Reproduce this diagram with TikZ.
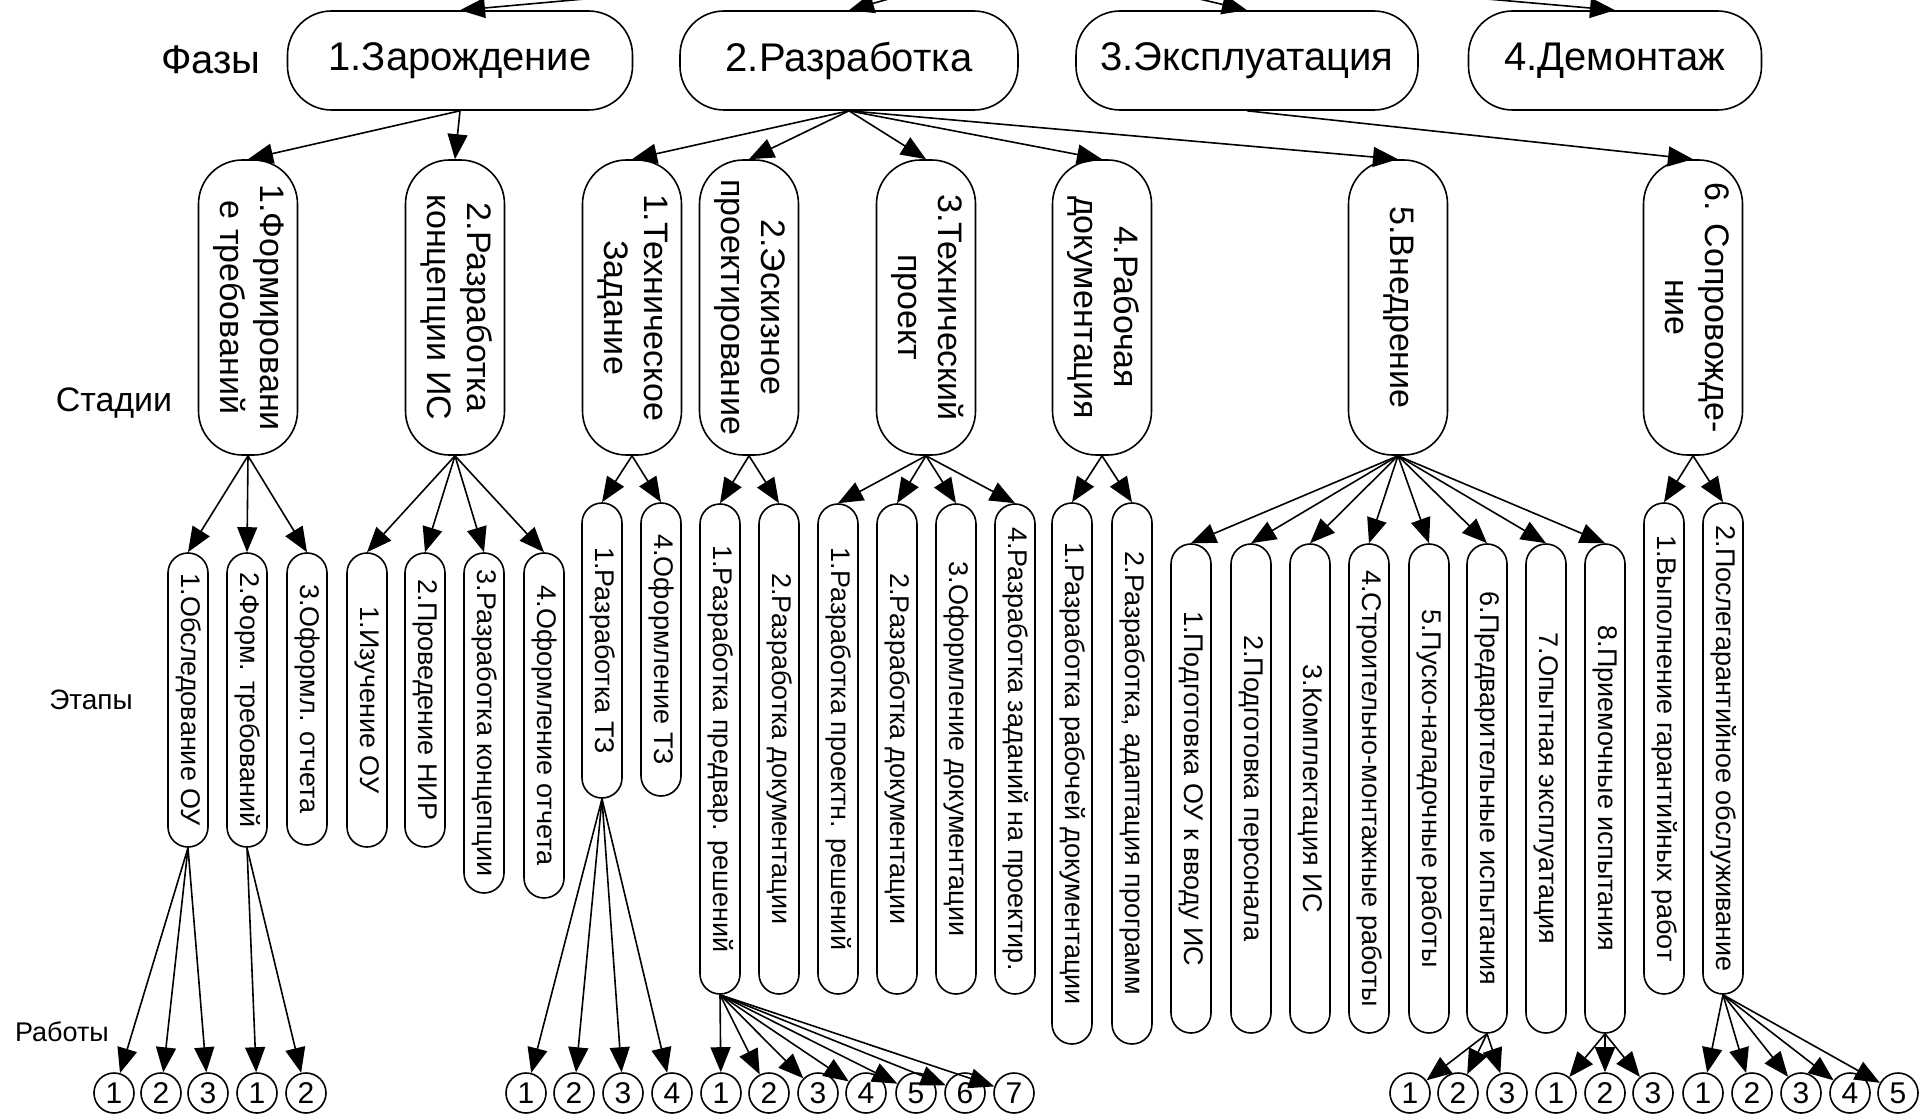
\documentclass[tikz,border=0pt]{standalone}
\usepackage{fontspec}
\setmainfont{Liberation Sans}
\usetikzlibrary{arrows.meta}

\newcommand{\rottext}[1]{\rotatebox{-90}{\begin{tabular}{@{}c@{}}#1\end{tabular}}}

\begin{document}
\begin{tikzpicture}[x=0.5pt,y=0.5pt,yscale=-1,xscale=1,line width=0.8pt,
  phase/.style={draw, rounded corners=22pt, minimum height=49.5pt, inner sep=0pt, font=\fontsize{20}{24}\selectfont},
  stage/.style={draw, rounded corners=22pt, minimum width=49.5pt, minimum height=147.5pt, inner sep=0pt, font=\fontsize{17}{20}\selectfont},
  etap/.style={draw, rounded corners=10pt, minimum width=20pt, inner sep=0pt, font=\fontsize{13.5}{16}\selectfont},
  work/.style={draw, circle, minimum size=20pt, inner sep=0pt, font=\fontsize{15}{17}\selectfont},
  lbl/.style={inner sep=0pt},
  arr/.style={-{Triangle[length=12.5pt,width=10pt]}}]

\useasboundingbox (0,0) rectangle (1921,1117);
\clip (0,0) rectangle (1921,1117);


\coordinate (root) at (1030,-41);

\node[lbl, font=\fontsize{20}{24}\selectfont] (fazy) at (211,60) {Фазы};
\node[lbl, font=\fontsize{17}{20}\selectfont] (stadii) at (114,403) {Стадии};
\node[lbl, font=\fontsize{14}{16}\selectfont] (etapy) at (91,700) {Этапы};
\node[lbl, font=\fontsize{13.5}{16}\selectfont] (raboty) at (62,1032) {Работы};


\node[phase, minimum width=172.5pt] (ph1) at (460,60.5) {1.Зарождение};
\node[phase, minimum width=169pt] (ph2) at (849,60.5) {2.Разработка};
\node[phase, minimum width=171pt] (ph3) at (1247,60.5) {3.Эксплуатация};
\node[phase, minimum width=146.5pt] (ph4) at (1615,60.5) {4.Демонтаж};


\node[stage] (s11) at (248,307.5) {\rottext{1.Формировани\\е требований}};
\node[stage] (s12) at (455,307.5) {\rottext{2.Разработка\\концепции ИС}};
\node[stage] (s21) at (632,307.5) {\rottext{1.Техническое\\Задание}};
\node[stage] (s22) at (749,307.5) {\rottext{2.Эскизное\\проектирование}};
\node[stage] (s23) at (926,307.5) {\rottext{3.Технический\\проект}};
\node[stage] (s24) at (1102,307.5) {\rottext{4.Рабочая\\документация}};
\node[stage] (s25) at (1398,307.5) {\rottext{5.Внедрение}};
\node[stage] (s31) at (1693,307.5) {\rottext{6. Сопровожде-\\ние}};


\node[etap, minimum height=147pt] (e11) at (188,700) {\rottext{1.Обследование ОУ}};
\node[etap, minimum height=147pt] (e12) at (247,700) {\rottext{2.Форм. требований}};
\node[etap, minimum height=146pt] (e13) at (307,699) {\rottext{3.Оформл. отчета}};
\node[etap, minimum height=147pt] (e21) at (367,700) {\rottext{1.Изучение ОУ}};
\node[etap, minimum height=147pt] (e22) at (425,700) {\rottext{2.Проведение НИР}};
\node[etap, minimum height=170pt] (e23) at (484,723) {\rottext{3.Разработка концепции}};
\node[etap, minimum height=172.5pt] (e24) at (544,725.5) {\rottext{4.Оформление отчета}};

\node[etap, minimum height=147.5pt] (e31) at (602,650.5) {\rottext{1.Разработка ТЗ}};
\node[etap, minimum height=146.5pt] (e34) at (661,649.5) {\rottext{4.Оформление ТЗ}};

\node[etap, minimum height=245pt] (e41) at (720,749) {\rottext{1.Разработка предвар. решений}};
\node[etap, minimum height=245pt] (e42) at (779,749) {\rottext{2.Разработка документации}};

\node[etap, minimum height=245pt] (e51) at (838,749) {\rottext{1.Разработка проектн. решений}};
\node[etap, minimum height=245pt] (e52) at (897,749) {\rottext{2.Разработка документации}};
\node[etap, minimum height=245pt] (e53) at (956,749) {\rottext{3.Оформление документации}};
\node[etap, minimum height=245pt] (e54) at (1015,749) {\rottext{4.Разработка заданий на проектир.}};

\node[etap, minimum height=270.5pt] (e61) at (1072,773.5) {\rottext{1.Разработка рабочей документации}};
\node[etap, minimum height=270.5pt] (e62) at (1132,773.5) {\rottext{2.Разработка, адаптация программ}};

\node[etap, minimum height=244.5pt] (e71) at (1191,788.5) {\rottext{1.Подготовка ОУ к вводу ИС}};
\node[etap, minimum height=244.5pt] (e72) at (1251,788.5) {\rottext{2.Подготовка персонала}};
\node[etap, minimum height=244.5pt] (e73) at (1310,788.5) {\rottext{3.Комплектация ИС}};
\node[etap, minimum height=244.5pt] (e74) at (1369,788.5) {\rottext{4.Строительно-монтажные работы}};
\node[etap, minimum height=244.5pt] (e75) at (1429,788.5) {\rottext{5.Пуско-наладочные работы}};
\node[etap, minimum height=244.5pt] (e76) at (1487,788.5) {\rottext{6.Предварительные испытания}};
\node[etap, minimum height=244.5pt] (e77) at (1546,788.5) {\rottext{7.Опытная эксплуатация}};
\node[etap, minimum height=244.5pt] (e78) at (1605,788.5) {\rottext{8.Приемочные испытания}};

\node[etap, minimum height=245.5pt] (e81) at (1664,748.5) {\rottext{1.Выполнение гарантийных работ}};
\node[etap, minimum height=245.5pt] (e82) at (1723,748.5) {\rottext{2.Послегарантийное обслуживание}};


\node[work] (w11a) at (114,1093) {1};
\node[work] (w11b) at (161,1093) {2};
\node[work] (w11c) at (208,1093) {3};
\node[work] (w12a) at (257,1093) {1};
\node[work] (w12b) at (306,1093) {2};

\node[work] (w31a) at (526,1093) {1};
\node[work] (w31b) at (574,1093) {2};
\node[work] (w31c) at (623,1093) {3};
\node[work] (w31d) at (672,1093) {4};

\node[work] (w41a) at (721,1093) {1};
\node[work] (w41b) at (769,1093) {2};
\node[work] (w41c) at (818,1093) {3};
\node[work] (w41d) at (866,1093) {4};
\node[work] (w41e) at (916,1093) {5};
\node[work] (w41f) at (965,1093) {6};
\node[work] (w41g) at (1014,1093) {7};

\node[work] (w76a) at (1410,1093) {1};
\node[work] (w76b) at (1458,1093) {2};
\node[work] (w76c) at (1507,1093) {3};
\node[work] (w78a) at (1556,1093) {1};
\node[work] (w78b) at (1605,1093) {2};
\node[work] (w78c) at (1653,1093) {3};

\node[work] (w82a) at (1703,1093) {1};
\node[work] (w82b) at (1752,1093) {2};
\node[work] (w82c) at (1801,1093) {3};
\node[work] (w82d) at (1850,1093) {4};
\node[work] (w82e) at (1898,1093) {5};


\draw[arr] (root) -- (ph1.north);
\draw[arr] (root) -- (ph2.north);
\draw[arr] (root) -- (ph3.north);
\draw[arr] (root) -- (ph4.north);

\draw[arr] (ph1.south) -- (s11.north);
\draw[arr] (ph1.south) -- (s12.north);

\draw[arr] (ph2.south) -- (s21.north);
\draw[arr] (ph2.south) -- (s22.north);
\draw[arr] (ph2.south) -- (s23.north);
\draw[arr] (ph2.south) -- (s24.north);
\draw[arr] (ph2.south) -- (s25.north);

\draw[arr] (ph3.south) -- (s31.north);


\draw[arr] (s11.south) -- (e11.north);
\draw[arr] (s11.south) -- (e12.north);
\draw[arr] (s11.south) -- (e13.north);

\draw[arr] (s12.south) -- (e21.north);
\draw[arr] (s12.south) -- (e22.north);
\draw[arr] (s12.south) -- (e23.north);
\draw[arr] (s12.south) -- (e24.north);

\draw[arr] (s21.south) -- (e31.north);
\draw[arr] (s21.south) -- (e34.north);

\draw[arr] (s22.south) -- (e41.north);
\draw[arr] (s22.south) -- (e42.north);

\draw[arr] (s23.south) -- (e51.north);
\draw[arr] (s23.south) -- (e52.north);
\draw[arr] (s23.south) -- (e53.north);
\draw[arr] (s23.south) -- (e54.north);

\draw[arr] (s24.south) -- (e61.north);
\draw[arr] (s24.south) -- (e62.north);

\draw[arr] (s25.south) -- (e71.north);
\draw[arr] (s25.south) -- (e72.north);
\draw[arr] (s25.south) -- (e73.north);
\draw[arr] (s25.south) -- (e74.north);
\draw[arr] (s25.south) -- (e75.north);
\draw[arr] (s25.south) -- (e76.north);
\draw[arr] (s25.south) -- (e77.north);
\draw[arr] (s25.south) -- (e78.north);

\draw[arr] (s31.south) -- (e81.north);
\draw[arr] (s31.south) -- (e82.north);


\draw[arr] (e11.south) -- (w11a);
\draw[arr] (e11.south) -- (w11b);
\draw[arr] (e11.south) -- (w11c);
\draw[arr] (e12.south) -- (w12a);
\draw[arr] (e12.south) -- (w12b);

\draw[arr] (e31.south) -- (w31a);
\draw[arr] (e31.south) -- (w31b);
\draw[arr] (e31.south) -- (w31c);
\draw[arr] (e31.south) -- (w31d);

\draw[arr] (e41.south) -- (w41a);
\draw[arr] (e41.south) -- (w41b);
\draw[arr] (e41.south) -- (w41c);
\draw[arr] (e41.south) -- (w41d);
\draw[arr] (e41.south) -- (w41e);
\draw[arr] (e41.south) -- (w41f);
\draw[arr] (e41.south) -- (w41g);

\draw[arr] (e76.south) -- (w76a);
\draw[arr] (e76.south) -- (w76b);
\draw[arr] (e76.south) -- (w76c);
\draw[arr] (e78.south) -- (w78a);
\draw[arr] (e78.south) -- (w78b);
\draw[arr] (e78.south) -- (w78c);

\draw[arr] (e82.south) -- (w82a);
\draw[arr] (e82.south) -- (w82b);
\draw[arr] (e82.south) -- (w82c);
\draw[arr] (e82.south) -- (w82d);
\draw[arr] (e82.south) -- (w82e);

\end{tikzpicture}
\end{document}
